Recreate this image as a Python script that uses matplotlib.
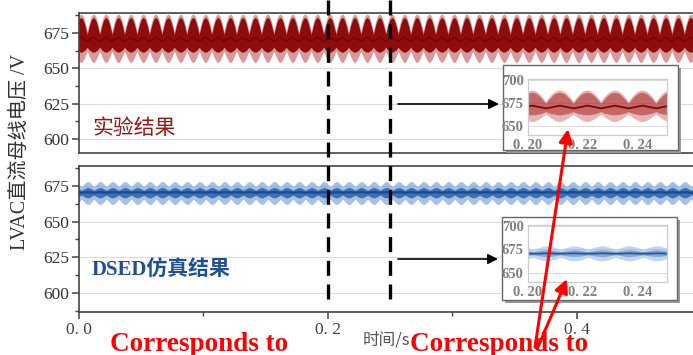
import numpy as np
import matplotlib
matplotlib.use("Agg")
import matplotlib.pyplot as plt
from matplotlib.patches import Rectangle, FancyArrowPatch
from matplotlib.lines import Line2D
from matplotlib.ticker import FixedLocator, FixedFormatter, MultipleLocator
from matplotlib.transforms import blended_transform_factory

# ---- waveform data: one 10 ms ripple cycle (12 samples) of the band envelopes, in V ----
period = 0.01
n_cycles = 52

exp_cycle_start = -0.0034
exp_upper_outer = [676, 679.5, 682.5, 685, 687, 688, 688.5, 688, 687, 685, 682.5, 679.5]
exp_upper_core = [674, 677, 680, 682.5, 684.5, 685.5, 686, 685.5, 684.5, 682.5, 680, 677]
exp_center = [669, 669.5, 670, 670.5, 671, 671.5, 672, 671.5, 671, 670.5, 670, 669.5]
exp_lower_core = [665, 664, 663, 662.5, 662, 661.5, 661.5, 661.5, 662, 662.5, 663, 664]
exp_lower_outer = [662, 660.5, 658.5, 657, 655.5, 654.5, 654, 654.5, 655.5, 657, 658.5, 660.5]

sim_cycle_start = -0.008
sim_upper_outer = [674.5, 675.2, 676, 676.8, 677.5, 678, 678.2, 678, 677.5, 676.8, 676, 675.2]
sim_upper_core = [672, 672.4, 672.8, 673.2, 673.6, 673.8, 674, 673.8, 673.6, 673.2, 672.8, 672.4]
sim_center = [670.3, 670.3, 670.4, 670.5, 670.6, 670.6, 670.7, 670.6, 670.6, 670.5, 670.4, 670.3]
sim_lower_core = [668.6, 668.2, 667.8, 667.4, 667, 666.8, 666.6, 666.8, 667, 667.4, 667.8, 668.2]
sim_lower_outer = [665.8, 665, 664.2, 663.4, 662.7, 662.2, 662, 662.2, 662.7, 663.4, 664.2, 665]

main_xticks = [0.0, 0.2, 0.4]
main_xticklabels = ["0. 0", "0. 2", "0. 4"]
main_yticks = [600, 625, 650, 675]
inset_xticks = [0.20, 0.22, 0.24]
inset_xticklabels = ["0. 20", "0. 22", "0. 24"]
inset_yticks = [650, 675, 700]
marked_times = [0.2, 0.25]

ylabel = "LVAC直流母线电压 /V"
xlabel = "时间/s"
exp_label = "实验结果"
sim_label = "DSED仿真结果"
note_text = "Corresponds to"

# ---- figure geometry (pixel based) ----
W, H = 693, 355
fig = plt.figure(figsize=(W / 100, H / 100), dpi=100)
fig.patch.set_facecolor("white")


def fx(px):
    return px / W


def fy(py):
    return 1 - py / H


def box(x0, y0, x1, y1):
    return [fx(x0), fy(y1), fx(x1) - fx(x0), fy(y0) - fy(y1)]


SERIF = ["Liberation Serif", "Noto Sans CJK SC"]
CJK = ["Noto Sans CJK SC", "Liberation Serif"]


def cycle_series(values, start):
    n = len(values)
    t = start + np.arange(n_cycles * n + 1) * period / n
    v = np.append(np.tile(values, n_cycles), values[0])
    return t, v


def draw_band(ax, start, lo_o, lo_c, ctr, up_c, up_o, outer_col, outer_a,
              core_col, core_a, ctr_col, ctr_lw):
    t, lo_outer = cycle_series(lo_o, start)
    _, lo_core = cycle_series(lo_c, start)
    _, center = cycle_series(ctr, start)
    _, up_core = cycle_series(up_c, start)
    _, up_outer = cycle_series(up_o, start)
    ax.fill_between(t, lo_outer, up_outer, color=outer_col, alpha=outer_a, lw=0)
    ax.fill_between(t, lo_core, up_core, color=core_col, alpha=core_a, lw=0)
    ax.plot(t, center, color=ctr_col, lw=ctr_lw)


def style_main(ax, show_x):
    ax.set_xlim(0, 0.5)
    ax.yaxis.set_major_locator(FixedLocator(main_yticks))
    ax.yaxis.set_minor_locator(MultipleLocator(12.5))
    ax.grid(axis="y", color="#dcdcdc", lw=0.8)
    ax.set_axisbelow(True)
    for s in ax.spines.values():
        s.set_color("#444444")
        s.set_linewidth(1.2)
    ax.tick_params(axis="y", which="major", length=5, width=1.1, color="#444444",
                   labelsize=12.5, labelcolor="#333333", pad=2)
    ax.tick_params(axis="y", which="minor", length=3, width=1.0, color="#444444")
    for lab in ax.get_yticklabels():
        lab.set_family(SERIF)
    if show_x:
        ax.xaxis.set_major_locator(FixedLocator(main_xticks))
        ax.xaxis.set_major_formatter(FixedFormatter(main_xticklabels))
        ax.xaxis.set_minor_locator(FixedLocator([0.1, 0.3]))
        ax.tick_params(axis="x", which="major", length=5, width=1.1, color="#444444",
                       labelsize=12.5, labelcolor="#444444", pad=2)
        ax.tick_params(axis="x", which="minor", length=3, width=1.0, color="#444444")
        for lab in ax.get_xticklabels():
            lab.set_family(SERIF)
    else:
        ax.set_xticks([])


# ---- main panels ----
ax_top = fig.add_axes(box(79, 13, 701, 153))
ax_bot = fig.add_axes(box(79, 166, 701, 312))

draw_band(ax_top, exp_cycle_start, exp_lower_outer, exp_lower_core, exp_center,
          exp_upper_core, exp_upper_outer, "#b03434", 0.5, "#8e0c0c", 1.0, "#7a0000", 1.0)
ax_top.set_ylim(590, 689.2)
style_main(ax_top, False)

draw_band(ax_bot, sim_cycle_start, sim_lower_outer, sim_lower_core, sim_center,
          sim_upper_core, sim_upper_outer, "#5d8fd0", 0.55, "#2a62ad", 0.85, "#174a92", 1.6)
ax_bot.set_ylim(586.7, 689)
style_main(ax_bot, True)

fig.text(fx(92), fy(128), exp_label, family=CJK, fontsize=15, color="#9e1414",
         ha="left", va="center")
fig.text(fx(92), fy(271), sim_label, family=["Liberation Serif", "Noto Sans CJK SC"],
         fontsize=15, fontweight="bold", color="#1f4f9a", ha="left", va="center")

fig.text(fx(20), fy(152), ylabel, family=SERIF, fontsize=14.5, color="#333333",
         rotation=90, ha="center", va="center")
fig.text(fx(386), fy(340), xlabel, family=CJK, fontsize=12, color="#555555",
         ha="center", va="center")

# ---- dashed markers across both panels ----
blend = blended_transform_factory(ax_top.transData, fig.transFigure)
for tm in marked_times:
    fig.add_artist(Line2D([tm, tm], [1.0, fy(302)], transform=blend, color="black",
                          lw=2.4, linestyle=(0, (4.5, 2.6)), zorder=3))

# ---- insets ----
def add_inset(frame, inner, start, lo_o, lo_c, ctr, up_c, up_o, outer_col,
              core_col, ctr_col, ctr_lw):
    x0, y0, x1, y1 = frame
    shadow = Rectangle((fx(x0 + 3), fy(y1 + 3)), fx(x1) - fx(x0), fy(y0) - fy(y1),
                       transform=fig.transFigure, facecolor="#9a9a9a", edgecolor="none",
                       zorder=4)
    card = Rectangle((fx(x0), fy(y1)), fx(x1) - fx(x0), fy(y0) - fy(y1),
                     transform=fig.transFigure, facecolor="white", edgecolor="#666666",
                     lw=1.0, zorder=4.1)
    fig.add_artist(shadow)
    fig.add_artist(card)
    ax = fig.add_axes(box(*inner))
    ax.set_zorder(5)
    draw_band(ax, start, lo_o, lo_c, ctr, up_c, up_o, outer_col, 0.45,
              core_col, 0.5, ctr_col, ctr_lw)
    ax.set_xlim(0.2, 0.2505)
    ax.set_ylim(640, 701)
    ax.xaxis.set_major_locator(FixedLocator(inset_xticks))
    ax.xaxis.set_major_formatter(FixedFormatter(inset_xticklabels))
    ax.yaxis.set_major_locator(FixedLocator(inset_yticks))
    ax.grid(axis="y", color="#dddddd", lw=0.8)
    ax.set_axisbelow(True)
    for s in ax.spines.values():
        s.set_color("#cccccc")
        s.set_linewidth(0.9)
    ax.tick_params(length=0, labelsize=10.5, labelcolor="#808080", pad=3)
    for lab in ax.get_xticklabels() + ax.get_yticklabels():
        lab.set_family(SERIF)
        lab.set_fontweight("bold")
    return ax


add_inset((503, 65, 678, 150), (528, 79, 667, 135), exp_cycle_start,
          exp_lower_outer, exp_lower_core, exp_center, exp_upper_core, exp_upper_outer,
          "#c65a5a", "#a01a1a", "#8b0000", 1.3)
add_inset((502, 217, 677, 300), (528, 225, 667, 282), sim_cycle_start,
          sim_lower_outer, sim_lower_core, sim_center, sim_upper_core, sim_upper_outer,
          "#7ea6da", "#4a7cc0", "#1f5aa6", 1.3)

# ---- arrows ----
def fig_arrow(p0, p1, color, lw, scale, z):
    fig.add_artist(FancyArrowPatch((fx(p0[0]), fy(p0[1])), (fx(p1[0]), fy(p1[1])),
                                   transform=fig.transFigure, arrowstyle="-|>",
                                   color=color, lw=lw, mutation_scale=scale,
                                   shrinkA=0, shrinkB=0, zorder=z))


fig_arrow((398, 104), (499, 104), "black", 1.2, 15, 4.5)
fig_arrow((398, 259), (498, 259), "black", 1.2, 15, 4.5)
fig_arrow((535, 347), (568, 129), "#ff0000", 2.2, 20, 10)
fig_arrow((538, 347), (567, 279), "#ff0000", 2.2, 20, 10)

# ---- red notes along the bottom edge ----
for x_left in (110, 410):
    fig.text(fx(x_left), fy(351), note_text, family=["Liberation Serif"], fontsize=19.5,
             fontweight="bold", color="#ff0000", ha="left", va="baseline", zorder=11)

fig.savefig("out.png", dpi=100)
